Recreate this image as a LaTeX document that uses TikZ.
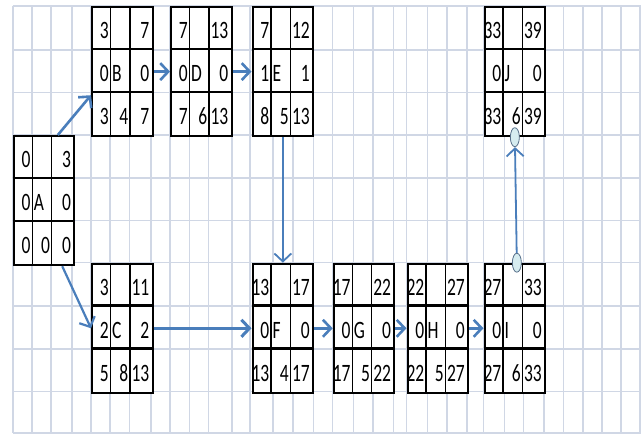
\documentclass[tikz,border=0pt]{standalone}
\usepackage{fontspec}
\setmainfont[FakeStretch=0.7]{Carlito}
\usetikzlibrary{arrows.meta, calc, shapes.geometric}
\definecolor{gridline}{RGB}{208,215,229}
\definecolor{linkblue}{RGB}{74,126,187}
\definecolor{handlefill}{RGB}{214,236,240}
\definecolor{handledraw}{RGB}{88,112,138}
\tikzset{box/.style={rectangle,draw,line width=2.2pt,fill=white,minimum width=60.5pt,minimum height=129pt,inner sep=0pt,anchor=north west},
  num/.style={anchor=base east,inner sep=0pt,font=\fontsize{25pt}{25pt}\selectfont},
  letter/.style={num,anchor=base west},
  grid/.style={draw=gridline,line width=1.6pt},
  link/.style={draw=linkblue,line width=2.6pt,-{Straight Barb[length=8pt,width=17pt]}},
  thinlink/.style={link,line width=1.8pt},
  handle/.style={ellipse,draw=handledraw,fill=handlefill,line width=0.8pt,minimum width=9pt,minimum height=19pt,inner sep=0pt}}
\newcommand\actbox[8]{%
  \node[box] (#1) at (#2) {};
  \begin{scope}[shift={(#1.north west)}]
    \draw[line width=1.1pt] (19.5,0) -- (19.5,129) (39,0) -- (39,129);
    \draw[line width=2.4pt] (0,43) -- (60.5,43) (0,86) -- (60.5,86);
    \node[num] at (18,33) {#3};
    \node[num] at (58.5,33) {#4};
    \node[num] at (18,76) {#5};
    \node[letter] at (21,76) {#1};
    \node[num] at (58.5,76) {#5};
    \node[num] at (18,119) {#6};
    \node[num] at (37.5,119) {#7};
    \node[num] at (58.5,119) {#8};
  \end{scope}}

\begin{document}
\begin{tikzpicture}[x=1pt,y=-1pt]
\useasboundingbox[fill=white] (0,0) rectangle (641,435);
\foreach \gx in {12.7,31.7,51,71.7,91,110,129.3,150.7,170,189.3,208.3,231.7,250,273,292.7,313.3,332.5,353.3,373,393.3,406.5,427.3,446.7,466.7,483.3,504.3,523.3,544,563.3,582.7,601.7,621,640}
  \draw[grid] (\gx,6) -- (\gx,433);
\foreach \gy in {6,50,92.7,135,178.3,220.5,262.7,306,349.3,391.7,433}
  \draw[grid] (12.7,\gy) -- (641,\gy);

\actbox{A}{12.7,135}{0}{3}{0}{0}{0}{0}
\actbox{B}{91,6}{3}{7}{0}{3}{4}{7}
\actbox{D}{170,6}{7}{13}{0}{7}{6}{13}
\actbox{E}{251.5,6}{7}{12}{1}{8}{5}{13}
\actbox{C}{91,262.7}{3}{11}{2}{5}{8}{13}
\actbox{F}{251.5,262.7}{13}{17}{0}{13}{4}{17}
\actbox{G}{332.7,262.7}{17}{22}{0}{17}{5}{22}
\actbox{H}{406.5,262.7}{22}{27}{0}{22}{5}{27}
\actbox{I}{483.5,262.7}{27}{33}{0}{27}{6}{33}
\actbox{J}{483.5,6}{33}{39}{0}{33}{6}{39}

\draw[link] ($(A.north west)!.72!(A.north east)$) -- ($(B.north west)!.68!(B.south west)$);
\draw[link,line width=2.2pt] ($(A.south west)!.79!(A.south east)$) -- (C.west);
\draw[link] (B.east) -- (D.west);
\draw[link] (D.east) -- (E.west);
\draw[thinlink] (E.south) -- (F.north);
\draw[link,line width=3pt] (C.east) -- (F.west);
\draw[link] (F.east) -- (G.west);
\draw[link] (G.east) -- (H.west);
\draw[link] (H.east) -- (I.west);
\node[handle] (Itop) at ([xshift=2pt]I.north) {};
\node[handle] (Jbot) at (J.south) {};
\draw[thinlink] (Itop) -- (Jbot);
\end{tikzpicture}
\end{document}
